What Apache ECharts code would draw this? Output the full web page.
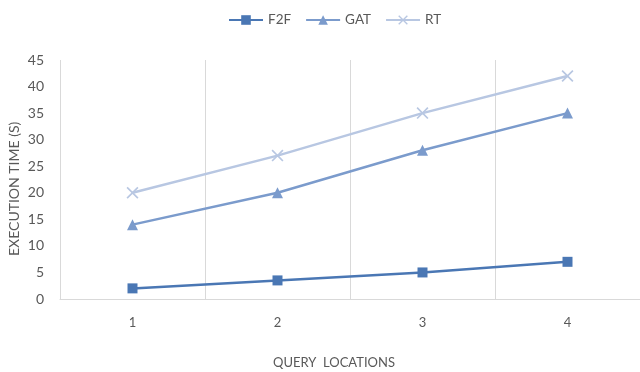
<!DOCTYPE html>
<html>
<head>
<meta charset="utf-8">
<script src="https://cdn.jsdelivr.net/npm/echarts@6/dist/echarts.min.js"></script>
<style>
  html, body { margin: 0; padding: 0; background: #fff; }
  #chart { width: 640px; height: 372px; }
</style>
</head>
<body>
<div id="chart"></div>
<script>
// Query locations on the x axis
const categories = ['1', '2', '3', '4'];
// Execution time in seconds per method
const f2fValues = [2, 3.5, 5, 7];
const gatValues = [14, 20, 28, 35];
const rtValues = [20, 27, 35, 42];

const FONT = 'Lato, "Open Sans", sans-serif';
const TEXT = '#595959';
const crossSymbol = 'path://M0,1L1,0L5,4L9,0L10,1L6,5L10,9L9,10L5,6L1,10L0,9L4,5Z';

const chart = echarts.init(document.getElementById('chart'));

function lineSeries(name, data, color, symbol, size) {
  return {
    name: name,
    type: 'line',
    data: data,
    symbol: symbol,
    symbolSize: size,
    showSymbol: true,
    lineStyle: { color: color, width: 2.5 },
    itemStyle: { color: color },
    emphasis: { disabled: true },
    animation: false
  };
}

chart.setOption({
  backgroundColor: '#fff',
  textStyle: { fontFamily: FONT, color: TEXT },
  legend: {
    top: 8,
    left: 223,
    itemWidth: 34,
    itemHeight: 12,
    itemGap: 14,
    textStyle: { fontFamily: FONT, fontSize: 13.5, color: TEXT },
    data: ['F2F', 'GAT', 'RT']
  },
  grid: { left: 60, top: 60, width: 584, height: 239 },
  xAxis: {
    type: 'category',
    data: categories,
    boundaryGap: true,
    axisLine: { lineStyle: { color: '#d9d9d9', width: 1 } },
    axisTick: { show: false },
    axisLabel: { color: TEXT, fontSize: 13, margin: 17, fontFamily: FONT },
    splitLine: { show: true, interval: 0, lineStyle: { color: '#d9d9d9', width: 1 } }
  },
  yAxis: {
    type: 'value',
    min: 0,
    max: 45,
    interval: 5,
    axisLine: { show: false },
    axisTick: { show: false },
    splitLine: { show: false },
    axisLabel: { color: TEXT, fontSize: 14, margin: 16, fontFamily: FONT }
  },
  graphic: [
    {
      type: 'text',
      left: 273,
      top: 356,
      style: { text: 'QUERY  LOCATIONS', fill: TEXT, font: '13px ' + FONT }
    },
    {
      type: 'text',
      x: 7,
      y: 256,
      rotation: Math.PI / 2,
      style: { text: 'EXECUTION TIME (S)', fill: TEXT, font: '14px ' + FONT, textAlign: 'left', textVerticalAlign: 'top' }
    }
  ],
  series: [
    lineSeries('F2F', f2fValues, '#4a77b4', 'rect', 10),
    lineSeries('GAT', gatValues, '#7b9bcc', 'triangle', 11),
    lineSeries('RT', rtValues, '#b8c7e2', crossSymbol, 12)
  ]
});
</script>
</body>
</html>
